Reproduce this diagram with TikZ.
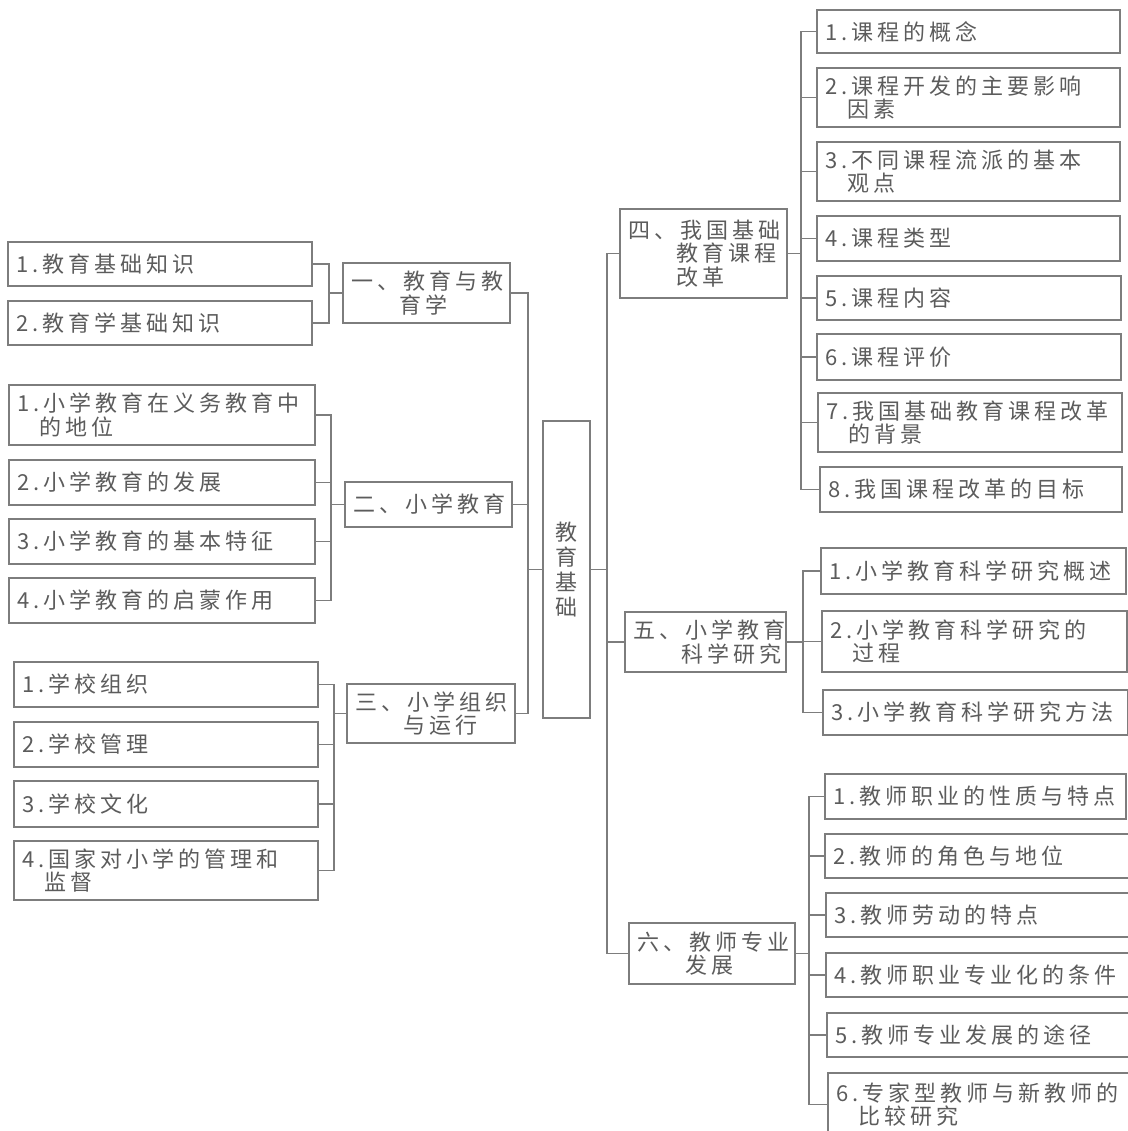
\documentclass[tikz,border=0pt]{standalone}
\usepackage{fontspec}
\setmainfont{Noto Sans CJK SC}[LetterSpace=18]
\definecolor{ln}{RGB}{125,125,125}
\definecolor{tx}{RGB}{92,92,92}
\tikzset{
  bx/.style={draw=ln, line width=0.8pt, text=tx, inner xsep=4pt, inner ysep=0pt,
    outer sep=0pt, align=left, font=\fontsize{11}{11.75}\selectfont},
  conn/.style={draw=ln, line width=0.8pt}
}
\newcommand\bbox[6]{%
  \pgfmathsetmacro\bw{(#4-#2)*0.5}%
  \pgfmathsetmacro\bh{(#5-#3)*0.5}%
  \pgfmathsetmacro\tw{(#4-#2)*0.5-8.5}%
  \node[bx, anchor=north west, minimum width=\bw pt, minimum height=\bh pt, text width=\tw pt] (#1) at (#2,#3) {#6};}
\begin{document}
\begin{tikzpicture}[x=0.5pt,y=-0.5pt]
\fill[white] (0,0) rectangle (1128,1131);
\useasboundingbox (0,0) rectangle (1128,1131);

% centre
\node[bx, align=center, anchor=north west, minimum width=23.5pt, minimum height=148.5pt,
  inner xsep=0pt, font=\fontsize{11}{12.5}\selectfont] (C) at (543,421) {教\\育\\基\\础};

% group one
\bbox{a1}{8}{242}{312}{286}{1.教育基础知识}
\bbox{a2}{8}{301}{312}{345}{2.教育学基础知识}
\bbox{p1}{343}{263}{510}{323}{一、教育与教\\\phantom{一、}育学}

% group two
\bbox{b1}{9}{385}{315}{445}{1.小学教育在义务教育中\\\phantom{1.}的地位}
\bbox{b2}{9}{460}{315}{505}{2.小学教育的发展}
\bbox{b3}{9}{519}{315}{564}{3.小学教育的基本特征}
\bbox{b4}{9}{578}{315}{623}{4.小学教育的启蒙作用}
\bbox{p2}{345}{482}{512}{527}{二、小学教育}

% group three
\bbox{c1}{14}{662}{318}{707}{1.学校组织}
\bbox{c2}{14}{722}{318}{767}{2.学校管理}
\bbox{c3}{14}{781}{318}{827}{3.学校文化}
\bbox{c4}{14}{841}{318}{900}{4.国家对小学的管理和\\\phantom{4.}监督}
\bbox{p3}{347}{684}{515}{743}{三、小学组织\\\phantom{三、}与运行}

% group four
\bbox{p4}{620}{209}{787}{298}{四、我国基础\\\phantom{四、}教育课程\\\phantom{四、}改革}
\bbox{d1}{817}{10}{1120}{53}{1.课程的概念}
\bbox{d2}{817}{68}{1120}{127}{2.课程开发的主要影响\\\phantom{2.}因素}
\bbox{d3}{817}{142}{1120}{201}{3.不同课程流派的基本\\\phantom{3.}观点}
\bbox{d4}{817}{216}{1120}{261}{4.课程类型}
\bbox{d5}{817}{276}{1121}{320}{5.课程内容}
\bbox{d6}{817}{334}{1121}{380}{6.课程评价}
\bbox{d7}{818}{393}{1122}{452}{7.我国基础教育课程改革\\\phantom{7.}的背景}
\bbox{d8}{820}{467}{1122}{512}{8.我国课程改革的目标}

% group five
\bbox{p5}{625}{612}{786}{672}{五、小学教育\\\phantom{五、}科学研究}
\bbox{e1}{821}{548}{1126}{594}{1.小学教育科学研究概述}
\bbox{e2}{822}{611}{1127}{672}{2.小学教育科学研究的\\\phantom{2.}过程}
\bbox{e3}{823}{690}{1128}{735}{3.小学教育科学研究方法}

% group six
\bbox{p6}{629}{923}{795}{984}{六、教师专业\\\phantom{六、}发展}
\bbox{f1}{825}{774}{1126}{819}{1.教师职业的性质与特点}
\bbox{f2}{825}{834}{1134}{878}{2.教师的角色与地位}
\bbox{f3}{826}{893}{1134}{937}{3.教师劳动的特点}
\bbox{f4}{826}{953}{1134}{997}{4.教师职业专业化的条件}
\bbox{f5}{827}{1013}{1134}{1057}{5.教师专业发展的途径}
\bbox{f6}{828}{1073}{1134}{1136}{6.专家型教师与新教师的\\\phantom{6.}比较研究}

% junction coordinates
\coordinate (j1) at ([xshift=-7pt]p1.west);
\coordinate (j2) at ([xshift=-7pt]p2.west);
\coordinate (j3) at ([xshift=-6.5pt]p3.west);
\coordinate (j4) at ([xshift=7pt]p4.east);
\coordinate (j5) at ([xshift=8.5pt]p5.east);
\coordinate (j6) at ([xshift=7pt]p6.east);
\coordinate (tl) at ([xshift=-7.5pt]C.west);
\coordinate (tr) at ([xshift=8.5pt]C.east);

% trunks
\draw[conn] (C.west) -- (tl);
\draw[conn] (p1.east) -| (tl);
\draw[conn] (p2.east) -| (tl);
\draw[conn] (p3.east) -| (tl);
\draw[conn] (C.east) -- (tr);
\draw[conn] (p4.west) -| (tr);
\draw[conn] (p5.west) -| (tr);
\draw[conn] (p6.west) -| (tr);

% brackets
\draw[conn] (p1.west) -- (j1);
\foreach \c in {a1,a2} \draw[conn] (\c.east) -| (j1);
\draw[conn] (p2.west) -- (j2);
\foreach \c in {b1,b2,b3,b4} \draw[conn] (\c.east) -| (j2);
\draw[conn] (p3.west) -- (j3);
\foreach \c in {c1,c2,c3,c4} \draw[conn] (\c.east) -| (j3);
\draw[conn] (p4.east) -- (j4);
\foreach \c in {d1,d2,d3,d4,d5,d6,d7,d8} \draw[conn] (\c.west) -| (j4);
\draw[conn] (p5.east) -- (j5);
\foreach \c in {e1,e2,e3} \draw[conn] (\c.west) -| (j5);
\draw[conn] (p6.east) -- (j6);
\foreach \c in {f1,f2,f3,f4,f5,f6} \draw[conn] (\c.west) -| (j6);
\end{tikzpicture}
\end{document}
